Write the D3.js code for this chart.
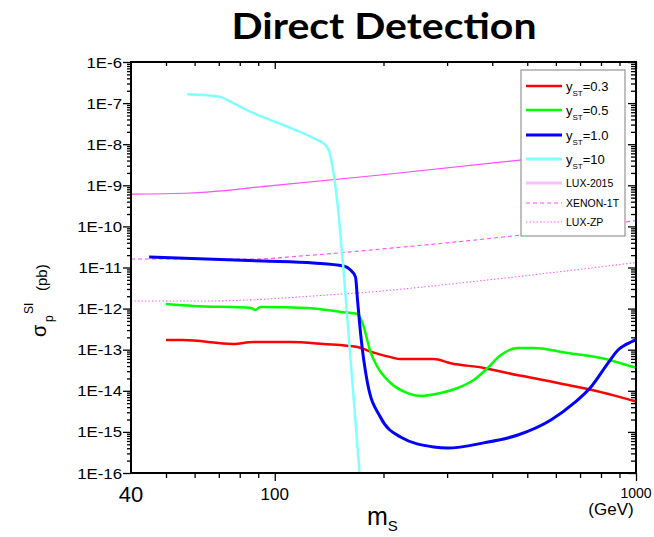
<!DOCTYPE html>
<html><head><meta charset="utf-8">
<script src="https://cdn.jsdelivr.net/npm/d3@7"></script>
<style>body{margin:0;background:#fff;} svg{display:block;}</style>
</head><body>
<svg id="chart" width="654" height="537"></svg>
<script>
// ---------- data (mass in GeV, cross section in pb) ----------
const massRed   = [50.0, 55.8, 76.7, 87.2, 110.4, 136.4, 169.5, 184.1, 209.2, 222.9, 275.3, 306.9, 378.9, 470.8, 501.8, 647.7, 799.9, 1000];
const sigmaRed  = [1.72e-13, 1.72e-13, 1.38e-13, 1.54e-13, 1.54e-13, 1.38e-13, 1.16e-13, 9.0e-14, 6.6e-14, 5.9e-14, 5.9e-14, 4.7e-14, 3.6e-14, 2.4e-14, 2.17e-14, 1.38e-14, 9.3e-15, 5.5e-15];

const massGreen  = [50.0, 59.4, 86.1, 88.3, 91.2, 123.0, 152.0, 169.5, 174.9, 184.1, 192.4, 209.2, 233.2, 253.4, 287.8, 320.8, 355.5, 388.6, 422.5, 470.8, 521.4, 647.7, 799.9, 1000];
const sigmaGreen = [1.29e-12, 1.16e-12, 1.04e-12, 9.2e-13, 1.09e-12, 1.04e-12, 8.3e-13, 7.4e-13, 4.5e-13, 8.8e-14, 3.8e-14, 1.55e-14, 8.8e-15, 7.5e-15, 8.8e-15, 1.17e-14, 1.83e-14, 3.6e-14, 7.4e-14, 1.1e-13, 1.1e-13, 8.3e-14, 6.3e-14, 3.6e-14];

const massBlue  = [44.9, 92.9, 127.9, 155.0, 162.1, 167.3, 169.5, 172.8, 180.6, 196, 222.9, 275.3, 301.1, 378.9, 470.8, 581.3, 673.0, 750.4, 836.5, 891.7, 968.7, 1000];
const sigmaBlue = [1.8e-11, 1.44e-11, 1.29e-11, 1.09e-11, 8.7e-12, 5.9e-12, 1.6e-12, 2.5e-13, 1.55e-14, 2.3e-15, 7.5e-16, 4.3e-16, 4.05e-16, 5.4e-16, 8.4e-16, 1.95e-15, 5.0e-15, 1.24e-14, 4.7e-14, 9.8e-14, 1.54e-13, 1.72e-13];

const massCyan  = [57.2, 70.6, 73.8, 85.5, 105.6, 131.2, 138.1, 141.7, 144.5, 149.1, 155.0, 171.7];
const sigmaCyan = [1.64e-7, 1.43e-7, 1.19e-7, 6.2e-8, 2.93e-8, 1.26e-8, 9.6e-9, 6.5e-9, 2.79e-9, 3.7e-10, 8.7e-12, 1.0e-16];

const massLUX2015  = [40, 58.3, 100, 196, 477, 600];
const sigmaLUX2015 = [6.1e-10, 6.5e-10, 1.0e-9, 1.78e-9, 4.1e-9, 5.2e-9];

const massXENON  = [40, 88.3, 117.7, 196, 483, 939, 1000];
const sigmaXENON = [1.61e-11, 1.61e-11, 1.9e-11, 2.8e-11, 6.2e-11, 1.28e-10, 1.39e-10];

const massLUXZP  = [40, 65.0, 139.9, 184.1, 342, 1000];
const sigmaLUXZP = [1.53e-12, 1.53e-12, 2.14e-12, 2.54e-12, 4.4e-12, 1.32e-11];

const yTickExponents = [-16, -15, -14, -13, -12, -11, -10, -9, -8, -7, -6];
const xMajorTicks = [100, 1000];
const xMinorTicks = [50, 60, 70, 80, 90, 200, 300, 400, 500, 600, 700, 800, 900];
const xTickLabels = ["40", "100", "1000"];
const xTickLabelValues = [40, 100, 1000];

const seriesNames = ["0.3", "0.5", "1.0", "10", "LUX-2015", "XENON-1T", "LUX-ZP"];

// ---------- setup ----------
const svg = d3.select("#chart");
const L = 131, R = 636, T = 62, B = 473;
const x = d3.scaleLog().domain([40, 1000]).range([L, R]);
const y = d3.scaleLog().domain([1e-16, 1e-6]).range([B, T]);
const FONT = "'Liberation Sans', Arial, sans-serif";

function stretch(sel, k) {
  sel.each(function () {
    const w = this.getComputedTextLength();
    d3.select(this).attr("textLength", w * k).attr("lengthAdjust", "spacingAndGlyphs");
  });
}

// title
svg.append("text").attr("x", 384).attr("y", 39).attr("text-anchor", "middle")
  .style("font-family", "Lato, 'Open Sans', sans-serif").style("font-weight", "bold")
  .style("font-size", "37px").text("Direct Detection")
  .attr("textLength", 305).attr("lengthAdjust", "spacingAndGlyphs");

// clip
svg.append("defs").append("clipPath").attr("id", "plotclip")
  .append("rect").attr("x", L).attr("y", T).attr("width", R - L).attr("height", B - T);

// ticks
const majorsY = yTickExponents.map(e => Math.pow(10, e));
const minorsY = [];
yTickExponents.slice(0, -1).forEach(e => { for (let k = 2; k <= 9; k++) minorsY.push(k * Math.pow(10, e)); });

function tickAxis(axis, transform) {
  const g = svg.append("g").attr("transform", transform).call(axis);
  g.select(".domain").remove();
  g.selectAll("line").attr("stroke", "#000").attr("stroke-width", 1.3);
  return g;
}
tickAxis(d3.axisLeft(y).tickValues(minorsY).tickSize(4).tickFormat(""), `translate(${L},0)`);
const yl = tickAxis(d3.axisLeft(y).tickValues(majorsY).tickSize(8).tickPadding(1)
  .tickFormat(d => "1E" + Math.round(Math.log10(d))), `translate(${L},0)`);
yl.selectAll("text").style("font-family", FONT).style("font-size", "14px").attr("fill", "#000").attr("dy", "0.36em");
stretch(yl.selectAll("text"), 1.2);

tickAxis(d3.axisRight(y).tickValues(minorsY).tickSize(-5).tickFormat(""), `translate(${R},0)`);
tickAxis(d3.axisRight(y).tickValues(majorsY).tickSize(-8).tickFormat(""), `translate(${R},0)`);

tickAxis(d3.axisBottom(x).tickValues(xMinorTicks).tickSize(5).tickFormat(""), `translate(0,${B})`);
tickAxis(d3.axisBottom(x).tickValues(xMajorTicks).tickSize(8).tickFormat(""), `translate(0,${B})`);
tickAxis(d3.axisTop(x).tickValues(xMinorTicks).tickSize(-4).tickFormat(""), `translate(0,${T})`);
tickAxis(d3.axisTop(x).tickValues(xMajorTicks).tickSize(-7).tickFormat(""), `translate(0,${T})`);

// x tick labels
const xLabelSizes = [22, 17, 14];
const xLabelBase = [502, 500, 498];
xTickLabelValues.forEach((v, i) => {
  svg.append("text").attr("x", x(v)).attr("y", xLabelBase[i]).attr("text-anchor", "middle")
    .style("font-family", FONT).style("font-size", xLabelSizes[i] + "px").text(xTickLabels[i]);
});
svg.append("text").attr("x", 611).attr("y", 515).attr("text-anchor", "middle")
  .style("font-family", FONT).style("font-size", "17px").text("(GeV)");

// x axis title m_S
const xt = svg.append("text").attr("x", 367).attr("y", 525).style("font-family", FONT).style("font-size", "25px");
xt.append("tspan").text("m");
xt.append("tspan").attr("dy", 6).style("font-size", "15px").text("S");

// y axis title sigma_p^SI (pb)
function rotText(px, py, size, str) {
  svg.append("text").attr("transform", `translate(${px},${py}) rotate(-90)`)
    .style("font-family", FONT).style("font-size", size + "px").text(str);
}
rotText(46, 337, 20, "σ");
rotText(53, 322, 12, "p");
rotText(33, 314, 12, "SI");
rotText(47, 291, 15, "(pb)");

// curves
const line = d3.line().x(d => x(d[0])).y(d => y(d[1])).curve(d3.curveMonotoneX);
const plot = svg.append("g").attr("clip-path", "url(#plotclip)");
function addCurve(ms, ss, color, width, dash) {
  const p = plot.append("path").datum(ms.map((m, i) => [m, ss[i]]))
    .attr("d", line).attr("fill", "none").attr("stroke", color).attr("stroke-width", width)
    .attr("stroke-linejoin", "round");
  if (dash) p.attr("stroke-dasharray", dash);
}
const MAG = "#ff4dff";
addCurve(massLUX2015, sigmaLUX2015, MAG, 1.2);
addCurve(massXENON, sigmaXENON, MAG, 1.1, "4,3");
addCurve(massLUXZP, sigmaLUXZP, MAG, 1.1, "1.3,2.2");
addCurve(massRed, sigmaRed, "#ff0000", 2.5);
addCurve(massGreen, sigmaGreen, "#00ff00", 2.5);
addCurve(massBlue, sigmaBlue, "#0000ff", 3);
addCurve(massCyan, sigmaCyan, "#80ffff", 2.5);

// frame
svg.append("rect").attr("x", L).attr("y", T).attr("width", R - L).attr("height", B - T)
  .attr("fill", "none").attr("stroke", "#000").attr("stroke-width", 2);

// legend
const lg = svg.append("g");
lg.append("rect").attr("x", 521).attr("y", 70).attr("width", 104).attr("height", 166)
  .attr("fill", "#fff").attr("stroke", "#808080").attr("stroke-width", 1);
const legY = [86, 110, 135, 159, 183, 203, 222];
const legColor = ["#ff0000", "#00ff00", "#0000ff", "#80ffff", "#ffbfff", MAG, MAG];
const legWidth = [2.5, 2.5, 3, 3, 3, 1, 1];
const legDash = [null, null, null, null, null, "4,3", "1.3,2.2"];
seriesNames.forEach((name, i) => {
  const l = lg.append("line").attr("x1", 526).attr("x2", 562).attr("y1", legY[i]).attr("y2", legY[i])
    .attr("stroke", legColor[i]).attr("stroke-width", legWidth[i]);
  if (legDash[i]) l.attr("stroke-dasharray", legDash[i]);
  if (i < 4) {
    const t = lg.append("text").attr("x", 566).attr("y", legY[i] + 5).style("font-family", FONT).style("font-size", "13px");
    t.append("tspan").text("y");
    t.append("tspan").attr("dy", 5).style("font-size", "8px").text("ST");
    t.append("tspan").attr("dy", -5).text("=" + name);
  } else {
    lg.append("text").attr("x", 566).attr("y", legY[i] + 4).style("font-family", FONT).style("font-size", "10.5px").text(name);
  }
});
</script>
</body></html>
